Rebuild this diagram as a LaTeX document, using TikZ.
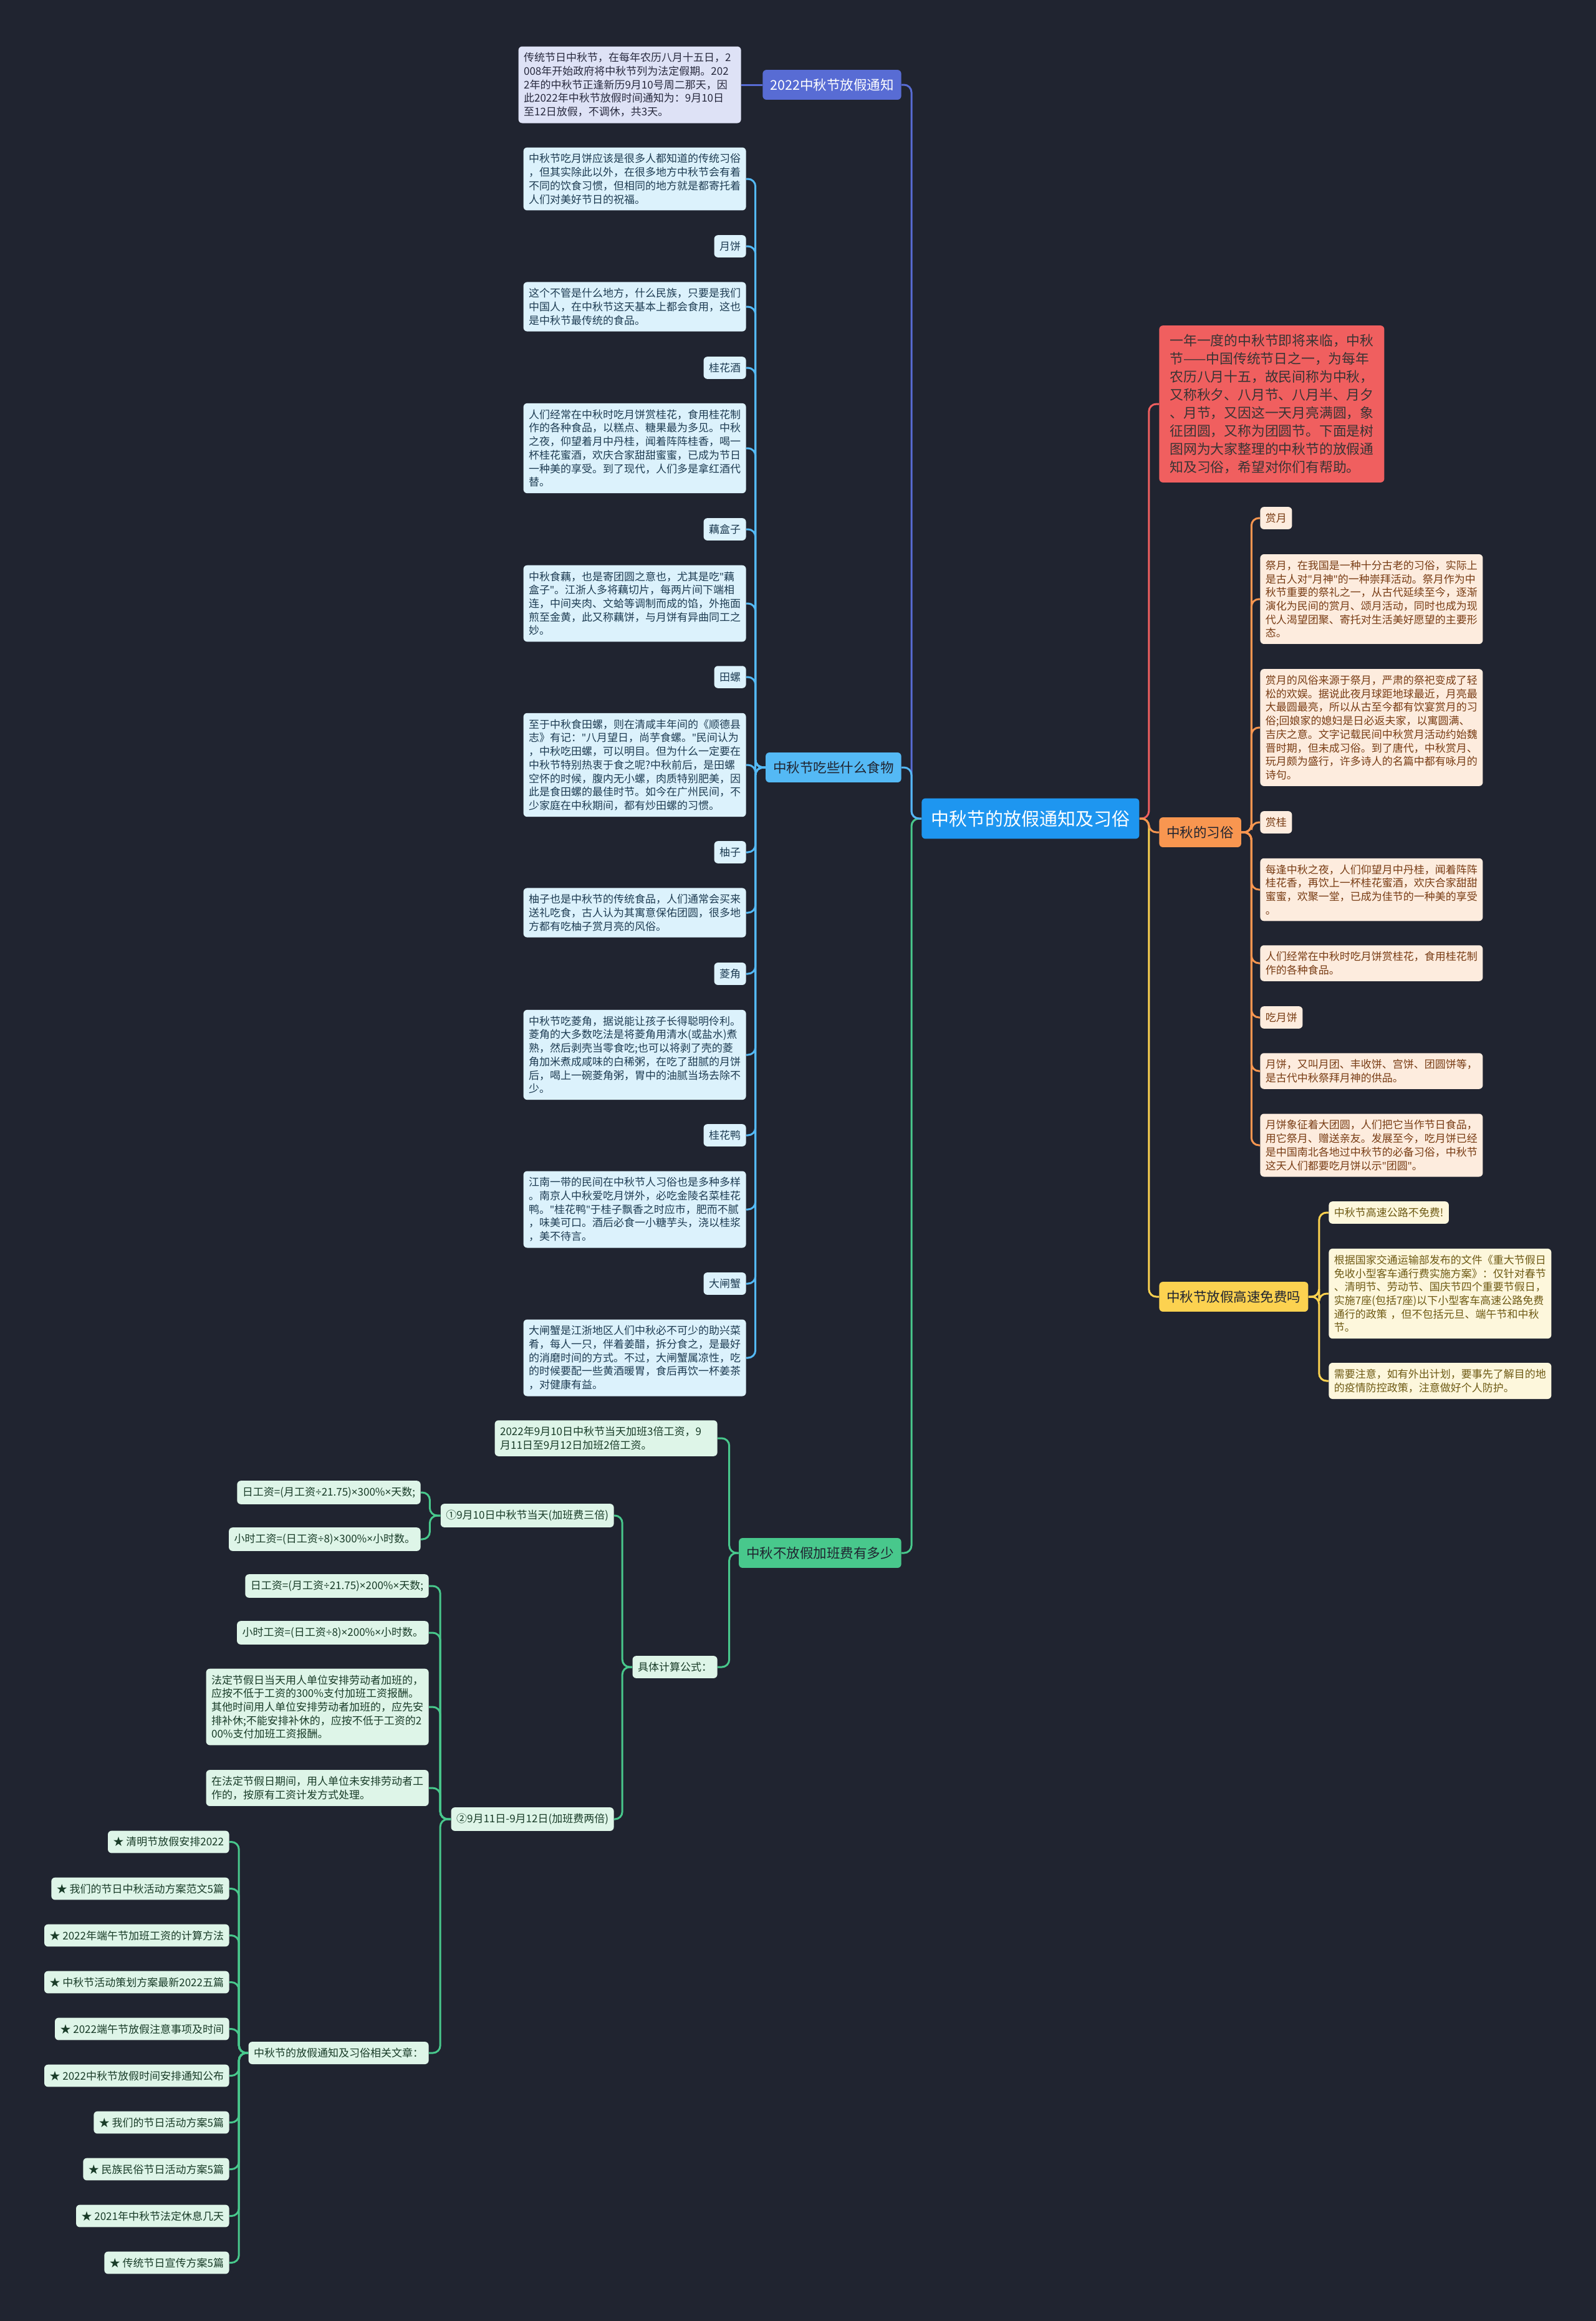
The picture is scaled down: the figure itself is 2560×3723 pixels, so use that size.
\documentclass[tikz,border=0pt]{standalone}
\usepackage{fontspec}
\setmainfont{Noto Sans CJK SC}
\newfontfamily\latf{Noto Sans}
\newcommand\qq{{\latf"}}
\newcommand\tms{{\latf ×}}
\newcommand\dv{{\latf ÷}}
\definecolor{bg}{RGB}{32,36,48}
\definecolor{ink}{RGB}{32,36,48}
\definecolor{hubc}{RGB}{30,150,240}
\definecolor{violet}{RGB}{88,108,212}
\definecolor{sky}{RGB}{84,185,245}
\definecolor{grn}{RGB}{72,200,140}
\definecolor{red}{RGB}{240,95,95}
\definecolor{orng}{RGB}{248,150,80}
\definecolor{yel}{RGB}{252,210,80}
\definecolor{vfill}{RGB}{222,226,246}
\definecolor{vtext}{RGB}{40,42,62}
\definecolor{sfill}{RGB}{220,242,252}
\definecolor{stext}{RGB}{30,60,82}
\definecolor{ofill}{RGB}{253,236,222}
\definecolor{otext}{RGB}{120,60,20}
\definecolor{yfill}{RGB}{253,247,220}
\definecolor{ytext}{RGB}{110,90,20}
\definecolor{gfill}{RGB}{222,245,232}
\definecolor{gtext}{RGB}{25,60,40}

\begin{document}
\begin{tikzpicture}[
  x=0.5pt,
  y=-0.5pt,
  box/.style={rounded corners=3pt,inner xsep=4.25pt,inner ysep=5pt,font=\fontsize{8.5}{10.85}\selectfont},
  para/.style={box,text width=170pt,align=left},
  hub/.style={fill=hubc,text=white,rounded corners=3pt,inner xsep=7.5pt,inner ysep=9.5pt,font=\fontsize{14.5}{17}\selectfont},
  branch/.style={text=ink,rounded corners=3pt,inner xsep=6pt,inner ysep=7pt,font=\fontsize{10.75}{13}\selectfont},
  vleaf/.style={fill=vfill,text=vtext},
  sleaf/.style={fill=sfill,text=stext},
  oleaf/.style={fill=ofill,text=otext},
  yleaf/.style={fill=yfill,text=ytext},
  gleaf/.style={fill=gfill,text=gtext},
  link/.style={draw=#1,line width=1.5pt,rounded corners=6pt}
]
\fill[bg] (0,0) rectangle (2560,3723);

\node[hub,anchor=west] (cn) at (1478,1313) {中秋节的放假通知及习俗};

\node[branch,fill=violet,text=white,anchor=east] (notice) at (1446,136) {2022中秋节放假通知};
\node[branch,fill=sky,anchor=east] (food) at (1446,1231) {中秋节吃些什么食物};
\node[branch,fill=grn,anchor=east] (ot) at (1446,2491) {中秋不放假加班费有多少};
\node[fill=red,text={rgb,255:red,60;green,30;blue,30},rounded corners=3pt,inner xsep=8.5pt,inner ysep=7pt,
  text width=163.5pt,align=left,font=\fontsize{10.9}{14.5}\selectfont,anchor=west] (intro) at (1859,648)
  {一年一度的中秋节即将来临，中秋\\节——中国传统节日之一，为每年\\农历八月十五，故民间称为中秋，\\又称秋夕、八月节、八月半、月夕\\、月节，又因这一天月亮满圆，象\\征团圆，又称为团圆节。下面是树\\图网为大家整理的中秋节的放假通\\知及习俗，希望对你们有帮助。};
\node[branch,fill=orng,anchor=west] (cust) at (1859,1335) {中秋的习俗};
\node[branch,fill=yel,anchor=west] (hw) at (1859,2080) {中秋节放假高速免费吗};

\node[para,vleaf,anchor=east] (noticetxt) at (1189,136) {传统节日中秋节，在每年农历八月十五日，2\\008年开始政府将中秋节列为法定假期。202\\2年的中秋节正逢新历9月10号周二那天，因\\此2022年中秋节放假时间通知为：9月10日\\至12日放假，不调休，共3天。};

\node[para,sleaf,anchor=east] (f1) at (1197,287) {中秋节吃月饼应该是很多人都知道的传统习俗\\，但其实除此以外，在很多地方中秋节会有着\\不同的饮食习惯，但相同的地方就是都寄托着\\人们对美好节日的祝福。};
\node[box,sleaf,anchor=east] (f2) at (1197,395) {月饼};
\node[para,sleaf,anchor=east] (f3) at (1197,492) {这个不管是什么地方，什么民族，只要是我们\\中国人，在中秋节这天基本上都会食用，这也\\是中秋节最传统的食品。};
\node[box,sleaf,anchor=east] (f4) at (1197,590) {桂花酒};
\node[para,sleaf,anchor=east] (f5) at (1197,719) {人们经常在中秋时吃月饼赏桂花，食用桂花制\\作的各种食品，以糕点、糖果最为多见。中秋\\之夜，仰望着月中丹桂，闻着阵阵桂香，喝一\\杯桂花蜜酒，欢庆合家甜甜蜜蜜，已成为节日\\一种美的享受。到了现代，人们多是拿红酒代\\替。};
\node[box,sleaf,anchor=east] (f6) at (1197,849) {藕盒子};
\node[para,sleaf,anchor=east] (f7) at (1197,968) {中秋食藕，也是寄团圆之意也，尤其是吃\qq 藕\\盒子\qq 。江浙人多将藕切片，每两片间下端相\\连，中间夹肉、文蛤等调制而成的馅，外拖面\\煎至金黄，此又称藕饼，与月饼有异曲同工之\\妙。};
\node[box,sleaf,anchor=east] (f8) at (1197,1086) {田螺};
\node[para,sleaf,anchor=east] (f9) at (1197,1227) {至于中秋食田螺，则在清咸丰年间的《顺德县\\志》有记：\qq 八月望日，尚芋食螺。\qq 民间认为\\，中秋吃田螺，可以明目。但为什么一定要在\\中秋节特别热衷于食之呢?中秋前后，是田螺\\空怀的时候，腹内无小螺，肉质特别肥美，因\\此是食田螺的最佳时节。如今在广州民间，不\\少家庭在中秋期间，都有炒田螺的习惯。};
\node[box,sleaf,anchor=east] (f10) at (1197,1367) {柚子};
\node[para,sleaf,anchor=east] (f11) at (1197,1464) {柚子也是中秋节的传统食品，人们通常会买来\\送礼吃食，古人认为其寓意保佑团圆，很多地\\方都有吃柚子赏月亮的风俗。};
\node[box,sleaf,anchor=east] (f12) at (1197,1562) {菱角};
\node[para,sleaf,anchor=east] (f13) at (1197,1692) {中秋节吃菱角，据说能让孩子长得聪明伶利。\\菱角的大多数吃法是将菱角用清水(或盐水)煮\\熟，然后剥壳当零食吃;也可以将剥了壳的菱\\角加米煮成咸味的白稀粥，在吃了甜腻的月饼\\后，喝上一碗菱角粥，胃中的油腻当场去除不\\少。};
\node[box,sleaf,anchor=east] (f14) at (1197,1821) {桂花鸭};
\node[para,sleaf,anchor=east] (f15) at (1197,1940) {江南一带的民间在中秋节人习俗也是多种多样\\。南京人中秋爱吃月饼外，必吃金陵名菜桂花\\鸭。\qq 桂花鸭\qq 于桂子飘香之时应市，肥而不腻\\，味美可口。酒后必食一小糖芋头，浇以桂浆\\，美不待言。};
\node[box,sleaf,anchor=east] (f16) at (1197,2059) {大闸蟹};
\node[para,sleaf,anchor=east] (f17) at (1197,2178) {大闸蟹是江浙地区人们中秋必不可少的助兴菜\\肴，每人一只，伴着姜醋，拆分食之，是最好\\的消磨时间的方式。不过，大闸蟹属凉性，吃\\的时候要配一些黄酒暖胃，食后再饮一杯姜茶\\，对健康有益。};

\node[box,oleaf,anchor=west] (c1) at (2021,831) {赏月};
\node[para,oleaf,anchor=west] (c2) at (2021,961) {祭月，在我国是一种十分古老的习俗，实际上\\是古人对\qq 月神\qq 的一种崇拜活动。祭月作为中\\秋节重要的祭礼之一，从古代延续至今，逐渐\\演化为民间的赏月、颂月活动，同时也成为现\\代人渴望团聚、寄托对生活美好愿望的主要形\\态。};
\node[para,oleaf,anchor=west] (c3) at (2021,1167) {赏月的风俗来源于祭月，严肃的祭祀变成了轻\\松的欢娱。据说此夜月球距地球最近，月亮最\\大最圆最亮，所以从古至今都有饮宴赏月的习\\俗;回娘家的媳妇是日必返夫家，以寓圆满、\\吉庆之意。文字记载民间中秋赏月活动约始魏\\晋时期，但未成习俗。到了唐代，中秋赏月、\\玩月颇为盛行，许多诗人的名篇中都有咏月的\\诗句。};
\node[box,oleaf,anchor=west] (c4) at (2021,1319) {赏桂};
\node[para,oleaf,anchor=west] (c5) at (2021,1427) {每逢中秋之夜，人们仰望月中丹桂，闻着阵阵\\桂花香，再饮上一杯桂花蜜酒，欢庆合家甜甜\\蜜蜜，欢聚一堂，已成为佳节的一种美的享受\\。};
\node[para,oleaf,anchor=west] (c6) at (2021,1545) {人们经常在中秋时吃月饼赏桂花，食用桂花制\\作的各种食品。};
\node[box,oleaf,anchor=west] (c7) at (2021,1632) {吃月饼};
\node[para,oleaf,anchor=west] (c8) at (2021,1718) {月饼，又叫月团、丰收饼、宫饼、团圆饼等，\\是古代中秋祭拜月神的供品。};
\node[para,oleaf,anchor=west] (c9) at (2021,1837) {月饼象征着大团圆，人们把它当作节日食品，\\用它祭月、赠送亲友。发展至今，吃月饼已经\\是中国南北各地过中秋节的必备习俗，中秋节\\这天人们都要吃月饼以示\qq 团圆\qq 。};

\node[box,yleaf,anchor=west] (h1) at (2131,1945) {中秋节高速公路不免费!};
\node[para,yleaf,anchor=west] (h2) at (2131,2075) {根据国家交通运输部发布的文件《重大节假日\\免收小型客车通行费实施方案》：仅针对春节\\、清明节、劳动节、国庆节四个重要节假日，\\实施7座(包括7座)以下小型客车高速公路免费\\通行的政策 ，但不包括元旦、端午节和中秋\\节。};
\node[para,yleaf,anchor=west] (h3) at (2131,2215) {需要注意，如有外出计划，要事先了解目的地\\的疫情防控政策，注意做好个人防护。};

\node[para,gleaf,anchor=east] (o1) at (1151,2307) {2022年9月10日中秋节当天加班3倍工资，9\\月11日至9月12日加班2倍工资。};
\node[box,gleaf,anchor=east] (calc) at (1151,2674) {具体计算公式：};
\node[box,gleaf,anchor=east] (d1) at (985,2431) {①9月10日中秋节当天(加班费三倍)};
\node[box,gleaf,anchor=east] (d2) at (985,2918) {②9月11日-9月12日(加班费两倍)};
\node[box,gleaf,anchor=east] (p1) at (675,2394) {日工资=(月工资\dv 21.75)\tms 300\%\tms 天数;};
\node[box,gleaf,anchor=east] (p2) at (675,2469) {小时工资=(日工资\dv 8)\tms 300\%\tms 小时数。};
\node[box,gleaf,anchor=east] (q1) at (688,2544) {日工资=(月工资\dv 21.75)\tms 200\%\tms 天数;};
\node[box,gleaf,anchor=east] (q2) at (688,2619) {小时工资=(日工资\dv 8)\tms 200\%\tms 小时数。};
\node[para,gleaf,anchor=east] (q3) at (688,2738) {法定节假日当天用人单位安排劳动者加班的，\\应按不低于工资的300\%支付加班工资报酬。\\其他时间用人单位安排劳动者加班的，应先安\\排补休;不能安排补休的，应按不低于工资的2\\00\%支付加班工资报酬。};
\node[para,gleaf,anchor=east] (q4) at (688,2868) {在法定节假日期间，用人单位未安排劳动者工\\作的，按原有工资计发方式处理。};
\node[box,gleaf,anchor=east] (q5) at (688,3293) {中秋节的放假通知及习俗相关文章：};

\draw[link=grn] (cn.west) -- ++(-16,0) |- (ot.east);
\draw[link=violet] (cn.west) -- ++(-16,0) |- (notice.east);
\draw[link=sky] (cn.west) -- ++(-16,0) |- (food.east);
\draw[link=yel] (cn.east) -- ++(15,0) |- (hw.west);
\draw[link=red] (cn.east) -- ++(15,0) |- (intro.west);
\draw[link=orng] (cn.east) -- ++(15,0) |- (cust.west);

\draw[link=violet] (notice.west) -- (noticetxt.east);
\foreach \i in {1,...,17} {
  \draw[link=sky] (food.west) -- ++(-16,0) |- (f\i.east);
}
\foreach \i in {1,...,9} {
  \draw[link=orng] (cust.east) -- ++(16,0) |- (c\i.west);
}
\foreach \i in {1,2,3} {
  \draw[link=yel] (hw.east) -- ++(17,0) |- (h\i.west);
}
\draw[link=grn] (ot.west) -- ++(-15,0) |- (o1.east);
\draw[link=grn] (ot.west) -- ++(-15,0) |- (calc.east);
\draw[link=grn] (calc.west) -- ++(-16,0) |- (d1.east);
\draw[link=grn] (calc.west) -- ++(-16,0) |- (d2.east);
\draw[link=grn] (d1.west) -- ++(-17,0) |- (p1.east);
\draw[link=grn] (d1.west) -- ++(-17,0) |- (p2.east);
\foreach \i in {1,...,5} {
  \draw[link=grn] (d2.west) -- ++(-17,0) |- (q\i.east);
}

\foreach \t [count=\i] in {清明节放假安排2022,我们的节日中秋活动方案范文5篇,2022年端午节加班工资的计算方法,中秋节活动策划方案最新2022五篇,2022端午节放假注意事项及时间,2022中秋节放假时间安排通知公布,我们的节日活动方案5篇,民族民俗节日活动方案5篇,2021年中秋节法定休息几天,传统节日宣传方案5篇} {
  \node[box,gleaf,anchor=east] (a\i) at (368,{2954.5+75*(\i-1)}) {★ \t};
  \draw[link=grn] (q5.west) -- ++(-15,0) |- (a\i.east);
}
\end{tikzpicture}
\end{document}
